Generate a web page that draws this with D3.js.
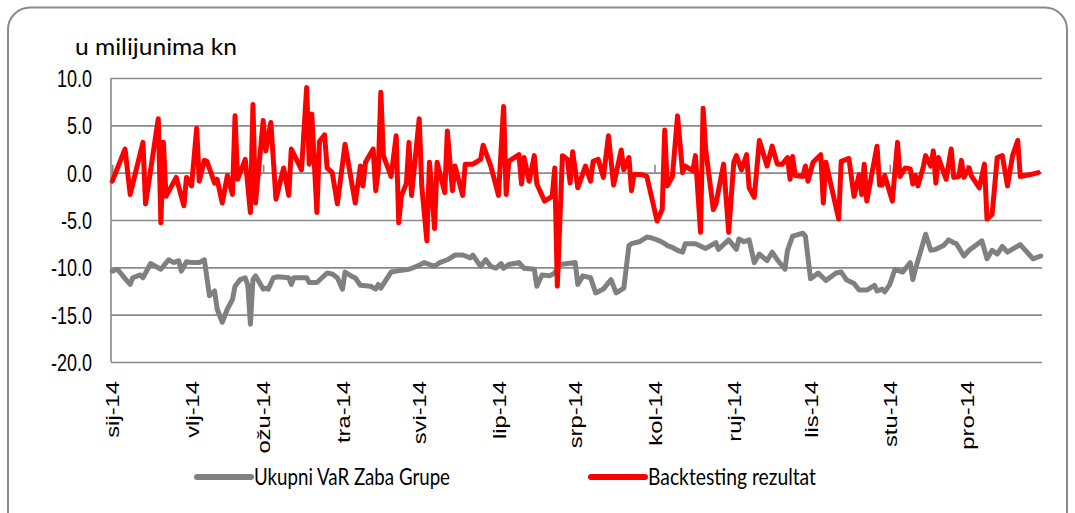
<!DOCTYPE html>
<html>
<head>
<meta charset="utf-8">
<script src="https://cdn.jsdelivr.net/npm/d3@7"></script>
<style>
  body { margin: 0; background: #fff; }
  svg { display: block; font-family: Lato, "Open Sans", sans-serif; }
</style>
</head>
<body>
<svg id="chart" width="1075" height="513"></svg>
<script>
// values (u milijunima kn)
var varDates = ["2014-01-02","2014-01-04","2014-01-07","2014-01-09","2014-01-10","2014-01-13","2014-01-14","2014-01-17","2014-01-19","2014-01-21",
  "2014-01-24","2014-01-26","2014-01-28","2014-01-29","2014-01-31","2014-02-02","2014-02-05","2014-02-07","2014-02-09","2014-02-11",
  "2014-02-12","2014-02-14","2014-02-16","2014-02-18","2014-02-19","2014-02-21","2014-02-23","2014-02-24","2014-02-25","2014-02-26",
  "2014-02-27","2014-03-02","2014-03-03","2014-03-04","2014-03-06","2014-03-08","2014-03-12","2014-03-13","2014-03-14","2014-03-19",
  "2014-03-20","2014-03-23","2014-03-27","2014-03-29","2014-03-31","2014-04-02","2014-04-03","2014-04-06","2014-04-07","2014-04-09",
  "2014-04-13","2014-04-15","2014-04-16","2014-04-17","2014-04-21","2014-04-23","2014-04-28","2014-05-01","2014-05-04","2014-05-06",
  "2014-05-08","2014-05-10","2014-05-13","2014-05-16","2014-05-19","2014-05-22","2014-05-23","2014-05-24","2014-05-26","2014-05-28",
  "2014-05-30","2014-06-01","2014-06-03","2014-06-04","2014-06-06","2014-06-10","2014-06-12","2014-06-16","2014-06-17","2014-06-19",
  "2014-06-22","2014-06-24","2014-06-26","2014-07-02","2014-07-03","2014-07-05","2014-07-08","2014-07-10","2014-07-13","2014-07-16",
  "2014-07-18","2014-07-21","2014-07-23","2014-07-24","2014-07-27","2014-07-30","2014-08-01","2014-08-04","2014-08-06","2014-08-07",
  "2014-08-09","2014-08-11","2014-08-13","2014-08-14","2014-08-18","2014-08-22","2014-08-26","2014-08-27","2014-08-31","2014-09-03",
  "2014-09-04","2014-09-06","2014-09-08","2014-09-10","2014-09-12","2014-09-15","2014-09-17","2014-09-19","2014-09-22","2014-09-23",
  "2014-09-25","2014-09-29","2014-09-30","2014-10-02","2014-10-05","2014-10-08","2014-10-12","2014-10-14","2014-10-16","2014-10-19",
  "2014-10-21","2014-10-24","2014-10-27","2014-10-28","2014-10-30","2014-10-31","2014-11-02","2014-11-04","2014-11-07","2014-11-10",
  "2014-11-11","2014-11-12","2014-11-16","2014-11-18","2014-11-20","2014-11-23","2014-11-25","2014-11-27","2014-11-28","2014-12-01",
  "2014-12-03","2014-12-08","2014-12-10","2014-12-12","2014-12-14","2014-12-16","2014-12-18","2014-12-23","2014-12-28","2014-12-31"];
var varValues = [-10.4,-10.2,-11.2,-11.8,-11.1,-10.8,-11.1,-9.6,-9.9,-10.2,
  -9.2,-9.5,-9.3,-10.4,-9.4,-9.5,-9.5,-9.2,-13.0,-12.5,
  -14.4,-15.8,-14.4,-13.4,-12.0,-11.3,-11.1,-11.9,-16.0,-11.3,
  -10.9,-12.3,-12.2,-12.3,-11.1,-11.0,-11.1,-11.8,-11.1,-11.1,
  -11.6,-11.6,-10.6,-10.7,-11.1,-12.3,-10.5,-11.0,-11.1,-11.9,
  -12.0,-12.3,-11.8,-12.2,-10.5,-10.4,-10.2,-9.9,-9.5,-9.7,
  -9.9,-9.5,-9.2,-8.7,-8.7,-9.0,-8.7,-9.1,-9.9,-9.2,
  -9.9,-10.1,-9.6,-10.1,-9.7,-9.5,-10.1,-10.2,-12.0,-10.8,
  -10.9,-10.6,-9.7,-9.5,-11.8,-10.9,-11.1,-12.7,-12.3,-11.3,
  -12.7,-12.2,-7.7,-7.5,-7.3,-6.8,-6.9,-7.2,-7.5,-7.7,
  -7.9,-8.2,-8.4,-7.5,-7.5,-8.0,-7.4,-8.1,-7.1,-8.1,
  -7.0,-7.3,-7.1,-9.5,-8.6,-9.3,-8.4,-9.2,-10.2,-8.2,
  -6.7,-6.4,-6.7,-11.2,-10.6,-11.4,-10.6,-10.5,-11.3,-11.7,
  -12.4,-12.4,-11.9,-12.5,-12.3,-12.6,-11.8,-10.2,-10.5,-9.5,
  -11.3,-10.2,-6.5,-8.2,-8.1,-7.7,-7.1,-7.4,-7.5,-8.8,
  -8.2,-7.2,-9.1,-8.2,-8.6,-7.8,-8.4,-7.6,-9.1,-8.8];

var btDates = ["2014-01-02","2014-01-07","2014-01-09","2014-01-14","2014-01-15","2014-01-20","2014-01-21","2014-01-22","2014-01-23","2014-01-27",
  "2014-01-30","2014-01-31","2014-02-02","2014-02-04","2014-02-05","2014-02-07","2014-02-08","2014-02-11","2014-02-12","2014-02-14",
  "2014-02-16","2014-02-18","2014-02-19","2014-02-20","2014-02-23","2014-02-25","2014-02-26","2014-02-27","2014-03-02","2014-03-03",
  "2014-03-05","2014-03-07","2014-03-10","2014-03-12","2014-03-13","2014-03-17","2014-03-19","2014-03-20","2014-03-21","2014-03-23",
  "2014-03-24","2014-03-26","2014-03-27","2014-03-29","2014-03-31","2014-04-03","2014-04-07","2014-04-09","2014-04-10","2014-04-11",
  "2014-04-14","2014-04-15","2014-04-16","2014-04-17","2014-04-18","2014-04-21","2014-04-23","2014-04-24","2014-04-25","2014-04-27",
  "2014-04-28","2014-04-29","2014-05-02","2014-05-03","2014-05-05","2014-05-06","2014-05-07","2014-05-08","2014-05-09","2014-05-12",
  "2014-05-13","2014-05-15","2014-05-16","2014-05-19","2014-05-20","2014-05-23","2014-05-26","2014-05-27","2014-05-30","2014-06-02",
  "2014-06-04","2014-06-05","2014-06-06","2014-06-10","2014-06-11","2014-06-12","2014-06-14","2014-06-16","2014-06-17","2014-06-20",
  "2014-06-23","2014-06-24","2014-06-25","2014-06-27","2014-06-29","2014-06-30","2014-07-01","2014-07-03","2014-07-06","2014-07-08",
  "2014-07-09","2014-07-11","2014-07-13","2014-07-15","2014-07-17","2014-07-20","2014-07-21","2014-07-23","2014-07-24","2014-07-25",
  "2014-07-28","2014-07-30","2014-08-03","2014-08-05","2014-08-06","2014-08-07","2014-08-09","2014-08-11","2014-08-13","2014-08-14",
  "2014-08-17","2014-08-18","2014-08-20","2014-08-21","2014-08-22","2014-08-25","2014-08-26","2014-08-29","2014-08-31","2014-09-02",
  "2014-09-03","2014-09-05","2014-09-07","2014-09-08","2014-09-10","2014-09-12","2014-09-15","2014-09-17","2014-09-19","2014-09-21",
  "2014-09-23","2014-09-24","2014-09-25","2014-09-26","2014-09-29","2014-09-30","2014-10-01","2014-10-03","2014-10-06","2014-10-07",
  "2014-10-08","2014-10-13","2014-10-14","2014-10-17","2014-10-19","2014-10-21","2014-10-22","2014-10-23","2014-10-24","2014-10-28",
  "2014-10-29","2014-10-30","2014-10-31","2014-11-03","2014-11-05","2014-11-06","2014-11-08","2014-11-10","2014-11-11","2014-11-12",
  "2014-11-13","2014-11-15","2014-11-16","2014-11-18","2014-11-19","2014-11-20","2014-11-21","2014-11-24","2014-11-26","2014-11-27",
  "2014-11-29","2014-11-30","2014-12-01","2014-12-03","2014-12-04","2014-12-07","2014-12-09","2014-12-10","2014-12-12","2014-12-14",
  "2014-12-16","2014-12-18","2014-12-20","2014-12-22","2014-12-23","2014-12-27","2014-12-30"];
var btValues = [-0.9,2.5,-2.3,3.2,-3.3,5.7,-5.3,3.2,-2.5,-0.5,
  -3.5,-0.5,-1.4,4.7,-0.9,1.3,1.2,-1.1,-0.7,-3.2,
  -0.3,-2.3,6.0,-0.7,1.4,-4.2,7.2,-3.2,5.5,2.3,
  5.3,-2.8,0.5,-2.4,2.5,0.3,9.0,0.9,6.2,-4.2,
  3.3,4.0,0.5,0.0,-3.3,3.0,-3.2,0.7,-1.4,1.1,
  2.5,-1.9,0.3,8.5,1.8,-0.4,3.9,-5.3,-2.5,-1.1,
  3.2,-2.4,5.7,-1.4,-7.2,1.1,-2.1,-5.9,1.1,-2.1,
  4.4,-1.9,0.7,-2.4,0.9,0.9,1.4,2.9,0.7,-2.4,
  7.0,-2.3,1.2,1.9,-1.2,1.6,-0.9,1.8,-1.2,-3.0,
  -2.5,0.5,-12.0,1.8,1.4,-1.1,2.2,-1.6,0.7,-0.9,
  1.2,1.4,-0.5,3.9,-1.3,2.4,0.3,1.6,-1.9,-0.2,
  -0.2,-0.4,-5.1,-3.9,4.5,-1.4,-0.4,6.0,0.0,0.7,
  0.2,1.8,-6.3,6.8,2.5,-3.9,-3.3,0.9,-6.3,1.1,
  1.8,0.3,1.9,-1.6,-2.6,3.4,0.7,2.8,0.9,0.9,
  1.6,-0.7,1.7,-0.3,-0.4,0.7,-0.9,1.1,1.9,-3.2,
  1.1,-4.9,1.2,1.5,-2.5,-0.2,-2.3,0.9,-3.0,2.8,
  -1.3,-1.3,-0.3,-3.0,3.2,-0.4,0.5,0.4,-1.2,-0.3,
  -1.4,0.5,1.8,0.7,2.3,-1.1,1.6,-0.7,2.5,-0.5,
  -0.4,1.3,-0.5,0.5,-0.4,-1.6,0.9,-4.9,-4.4,1.6,
  1.8,-1.4,1.8,3.4,-0.4,-0.2,0.0];

var yTicks = [10, 5, 0, -5, -10, -15, -20];
var monthTicks = ["2014-01-02","2014-02-02","2014-03-02","2014-04-02","2014-05-02","2014-06-02",
  "2014-07-02","2014-08-02","2014-09-02","2014-10-02","2014-11-02","2014-12-02"];
var monthLabels = ["sij-14","vlj-14","ožu-14","tra-14","svi-14","lip-14",
  "srp-14","kol-14","ruj-14","lis-14","stu-14","pro-14"];
var seriesNames = ["Ukupni VaR Zaba Grupe", "Backtesting rezultat"];
var seriesColors = ["#808080", "#ff0000"];

var parse = d3.timeParse("%Y-%m-%d");
var stretch = "scale(1,1.25)";   // the original text is taller than wide

var svg = d3.select("#chart");

// outer frame
svg.append("rect")
  .attr("x", 8).attr("y", 7.5)
  .attr("width", 1059).attr("height", 600)
  .attr("rx", 22)
  .attr("fill", "none")
  .attr("stroke", "#8a8a8a")
  .attr("stroke-width", 2);

var plotLeft = 111, plotRight = 1042, plotTop = 78, plotBottom = 362;

var x = d3.scaleTime()
  .domain([new Date(2014, 0, 1, 12), new Date(2014, 11, 31, 12)])
  .range([plotLeft, plotRight]);
var y = d3.scaleLinear().domain([-20, 10]).range([plotBottom, plotTop]);

// gridlines + y labels
var yAxis = svg.append("g")
  .attr("transform", "translate(" + plotLeft + ",0)")
  .call(d3.axisLeft(y).tickValues(yTicks).tickSize(-(plotRight - plotLeft)).tickFormat(function(d) { return d.toFixed(1); }));
yAxis.select(".domain").remove();
yAxis.selectAll(".tick line").attr("stroke", "#8a8a8a").attr("stroke-width", 1.6);
yAxis.selectAll(".tick text")
  .attr("x", 0).attr("dy", "0.36em")
  .attr("transform", "translate(-19,0) scale(1,1.3)")
  .attr("font-size", 18).attr("fill", "#000");

// left axis line
svg.append("line")
  .attr("x1", plotLeft).attr("x2", plotLeft).attr("y1", plotTop).attr("y2", plotBottom)
  .attr("stroke", "#8a8a8a").attr("stroke-width", 1.6);

var tickDates = monthTicks.map(parse);

// small tick marks on the zero line
var zeroAxis = svg.append("g")
  .attr("transform", "translate(0," + y(0) + ")")
  .call(d3.axisTop(x).tickValues(tickDates).tickSize(8).tickFormat(""));
zeroAxis.select(".domain").remove();
zeroAxis.selectAll(".tick line").attr("stroke", "#8a8a8a").attr("stroke-width", 1.6);

// month labels
var xAxis = svg.append("g")
  .attr("transform", "translate(0,381)")
  .call(d3.axisBottom(x).tickValues(tickDates).tickSize(0).tickFormat(function(d, i) { return monthLabels[i]; }));
xAxis.select(".domain").remove();
xAxis.selectAll(".tick text")
  .attr("x", 0).attr("y", 0).attr("dy", "0.35em")
  .attr("text-anchor", "end")
  .attr("transform", stretch + " rotate(-90)")
  .attr("font-size", 19).attr("fill", "#000");

// series
var line = d3.line()
  .x(function(d) { return x(d.date); })
  .y(function(d) { return y(d.value); });

var varData = varDates.map(function(d, i) { return { date: parse(d), value: varValues[i] }; });
var btData = btDates.map(function(d, i) { return { date: parse(d), value: btValues[i] }; });

svg.append("path").datum(varData)
  .attr("d", line)
  .attr("fill", "none")
  .attr("stroke", seriesColors[0])
  .attr("stroke-width", 5)
  .attr("stroke-linejoin", "round").attr("stroke-linecap", "round");

svg.append("path").datum(btData)
  .attr("d", line)
  .attr("fill", "none")
  .attr("stroke", seriesColors[1])
  .attr("stroke-width", 5)
  .attr("stroke-linejoin", "round").attr("stroke-linecap", "round");

// unit label
svg.append("text")
  .attr("transform", "translate(75,55) " + stretch)
  .attr("font-size", 19)
  .attr("textLength", 162)
  .attr("lengthAdjust", "spacingAndGlyphs")
  .text("u milijunima kn");

// legend
var legendX = [197, 591];
var legendTextWidth = [196, 168];
seriesNames.forEach(function(name, i) {
  var g = svg.append("g").attr("transform", "translate(" + legendX[i] + ",477)");
  g.append("line")
    .attr("x1", 0).attr("x2", 54).attr("y1", 0).attr("y2", 0)
    .attr("stroke", seriesColors[i]).attr("stroke-width", 6)
    .attr("stroke-linecap", "round");
  g.append("text")
    .attr("transform", "translate(57,0) " + stretch)
    .attr("dy", "0.35em")
    .attr("font-size", 18)
    .attr("textLength", legendTextWidth[i])
    .attr("lengthAdjust", "spacingAndGlyphs")
    .text(name);
});
</script>
</body>
</html>
